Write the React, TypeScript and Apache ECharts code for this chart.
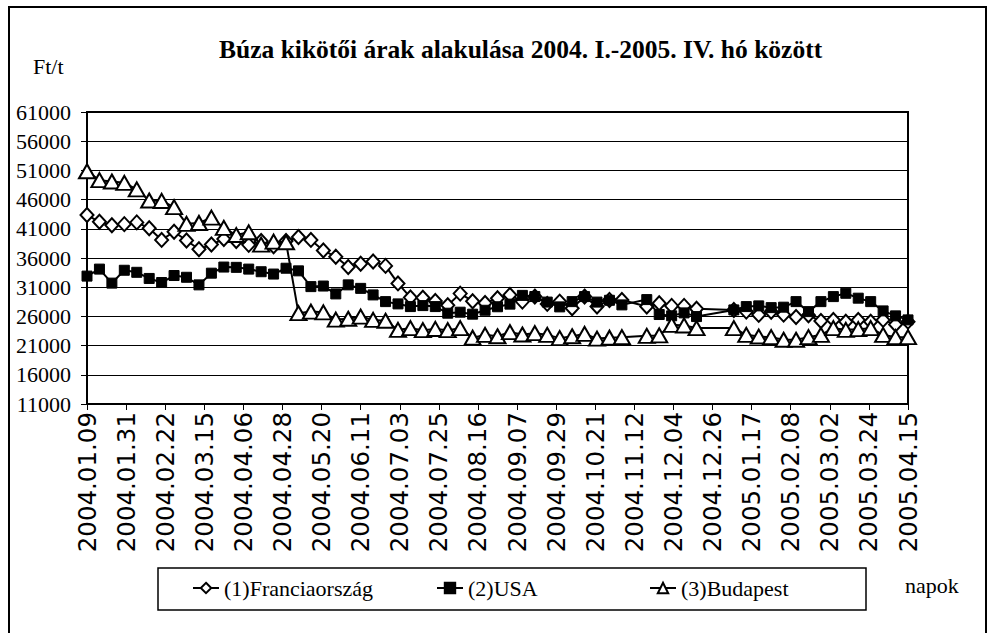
import React, { useEffect, useRef } from "react";
import * as echarts from "echarts";

const dates = [
  "2004.01.09", "2004.01.16", "2004.01.23", "2004.01.30", "2004.02.06", "2004.02.13", "2004.02.20", "2004.02.27",
  "2004.03.05", "2004.03.12", "2004.03.19", "2004.03.26", "2004.04.02", "2004.04.09", "2004.04.16", "2004.04.23",
  "2004.04.30", "2004.05.07", "2004.05.14", "2004.05.21", "2004.05.28", "2004.06.04", "2004.06.11", "2004.06.18",
  "2004.06.25", "2004.07.02", "2004.07.09", "2004.07.16", "2004.07.23", "2004.07.30", "2004.08.06", "2004.08.13",
  "2004.08.20", "2004.08.27", "2004.09.03", "2004.09.10", "2004.09.17", "2004.09.24", "2004.10.01", "2004.10.08",
  "2004.10.15", "2004.10.22", "2004.10.29", "2004.11.05",
  "2004.11.19", "2004.11.26", "2004.12.03", "2004.12.10", "2004.12.17",
  "2005.01.07", "2005.01.14", "2005.01.21", "2005.01.28", "2005.02.04", "2005.02.11", "2005.02.18", "2005.02.25",
  "2005.03.04", "2005.03.11", "2005.03.18", "2005.03.25", "2005.04.01", "2005.04.08", "2005.04.15",
];

const france = [
  43350, 42200, 41600, 41800, 42100, 41100, 39100, 40500, 39000, 37500,
  38300, 39250, 38900, 38250, 38900, 38000, 38900, 39600, 39100, 37300,
  36200, 34450, 35000, 35400, 34650, 31650, 29250, 29200, 28650, 27900,
  29900, 28600, 28300, 29100, 29680, 28530, 29390, 28140, 28530, 27400,
  29390, 27680, 28820, 28820,
  27700, 28260, 27800, 27800, 27300,
  27110, 26820, 26260, 26800, 26300, 25900, 26200, 25200, 25400, 25100, 25400, 25100, 25400, 24600, 25100,
];

const usa = [
  32900, 34100, 31700, 33900, 33550, 32500, 31800, 33000, 32700, 31400,
  33400, 34450, 34400, 34100, 33650, 33250, 34250, 33800, 31100, 31200,
  29850, 31400, 30800, 29680, 28530, 28140, 27680, 27850, 27680, 26550,
  26720, 26380, 27050, 27650, 28100, 29600, 29400, 28450, 27630, 28530,
  29390, 28450, 28760, 27970,
  28880, 26320, 26100, 26600, 25970,
  27110, 27680, 27800, 27500, 27580, 28530, 26820, 28530, 29390, 29960, 29120, 28530, 26940, 26090, 25400,
];

const budapest = [
  50850, 49330, 49100, 48870, 47740, 45850, 45770, 44720, 41850, 42000,
  42920, 41150, 39930, 40400, 38300, 38800, 38700, 26550, 26820, 26700,
  25450, 25600, 25970, 25400, 25250, 23700, 23990, 23650, 23850, 23650,
  23990, 22350, 22840, 22600, 23300, 22900, 23130, 22840, 22280, 22600,
  23000, 22200, 22350, 22450,
  22670, 22750, 24550, 24450, 24000,
  24000, 22840, 22550, 22450, 22000, 22000, 22450, 22840, 23990, 23700, 23820, 23990, 22840, 22450, 22450,
];

const seriesNames = ["(1)Franciaország", "(2)USA", "(3)Budapest"];
const titleText = "Búza kikötői árak alakulása 2004. I.-2005. IV. hó között";
const yUnit = "Ft/t";
const xUnit = "napok";
const yMin = 11000;
const yMax = 61000;
const yStep = 5000;
const xStepDays = 22;

const DAY = 86400000;
const parseDate = (s: string) => {
  const [y, m, d] = s.split(".").map(Number);
  return Date.UTC(y, m - 1, d);
};
const start = parseDate(dates[0]);
const dayOf = (s: string) => Math.round((parseDate(s) - start) / DAY);
const pad = (n: number) => (n < 10 ? "0" + n : "" + n);
const fmtDay = (day: number) => {
  const dt = new Date(start + day * DAY);
  return `${dt.getUTCFullYear()}.${pad(dt.getUTCMonth() + 1)}.${pad(dt.getUTCDate())}`;
};
const toPairs = (vals: number[]) => vals.map((v, i) => [dayOf(dates[i]), v]);

const SERIF = "'Liberation Serif', 'Times New Roman', serif";

export default function App() {
  const ref = useRef<HTMLDivElement>(null);
  useEffect(() => {
    if (!ref.current) return;
    const chart = echarts.init(ref.current, undefined, { renderer: "svg" });
    const legendCommon = {
      orient: "horizontal",
      padding: 0,
      itemWidth: 26,
      itemHeight: 13,
      selectedMode: false,
      textStyle: { fontFamily: SERIF, fontSize: 22, color: "#000" },
    };
    chart.setOption({
      animation: false,
      backgroundColor: "#fff",
      title: {
        text: titleText,
        left: 214,
        top: 31,
        textStyle: { fontFamily: SERIF, fontWeight: "bold", fontSize: 25.5, color: "#000" },
      },
      legend: [
        { ...legendCommon, data: [seriesNames[0]], left: 192, top: 577 },
        { ...legendCommon, data: [seriesNames[1]], left: 436, top: 577 },
        { ...legendCommon, data: [seriesNames[2]], left: 649, top: 577 },
      ],
      grid: {
        left: 87,
        top: 112,
        width: 821,
        height: 292,
        show: true,
        borderColor: "#000",
        borderWidth: 2,
        backgroundColor: "transparent",
      },
      xAxis: {
        type: "value",
        min: 0,
        max: dayOf(dates[dates.length - 1]),
        interval: xStepDays,
        axisLine: { show: true, lineStyle: { color: "#000", width: 2 } },
        axisTick: { show: true, inside: false, length: 6, lineStyle: { color: "#000", width: 1 } },
        splitLine: { show: false },
        axisLabel: {
          rotate: 90,
          margin: 8,
          fontFamily: "'DejaVu Sans', sans-serif",
          fontSize: 24.5,
          color: "#000",
          formatter: (v: number) => fmtDay(v),
        },
      },
      yAxis: {
        type: "value",
        min: yMin,
        max: yMax,
        interval: yStep,
        axisLine: { show: true, lineStyle: { color: "#000", width: 2 } },
        axisTick: { show: true, inside: false, length: 6, lineStyle: { color: "#000", width: 1 } },
        splitLine: { show: true, lineStyle: { color: "#000", width: 1 } },
        axisLabel: {
          margin: 16,
          fontFamily: SERIF,
          fontSize: 22,
          color: "#000",
          formatter: (v: number) => String(v),
        },
      },
      graphic: [
        {
          type: "rect",
          shape: { x: 9, y: 7, width: 977, height: 700 },
          style: { fill: "none", stroke: "#000", lineWidth: 2 },
          silent: true,
        },
        {
          type: "rect",
          shape: { x: 158, y: 568, width: 708, height: 42 },
          style: { fill: "none", stroke: "#000", lineWidth: 1.5 },
          silent: true,
        },
        {
          type: "text",
          x: 33,
          y: 55,
          style: { text: yUnit, fontFamily: SERIF, fontSize: 22, fill: "#000" },
        },
        {
          type: "text",
          x: 905,
          y: 574,
          style: { text: xUnit, fontFamily: SERIF, fontSize: 22, fill: "#000" },
        },
      ],
      series: [
        {
          name: seriesNames[0],
          type: "line",
          data: toPairs(france),
          symbol: "diamond",
          symbolSize: [13, 14],
          showAllSymbol: true,
          lineStyle: { color: "#000", width: 2 },
          itemStyle: { color: "#fff", borderColor: "#000", borderWidth: 2 },
          z: 2,
        },
        {
          name: seriesNames[1],
          type: "line",
          data: toPairs(usa),
          symbol: "rect",
          symbolSize: 10,
          showAllSymbol: true,
          lineStyle: { color: "#000", width: 2 },
          itemStyle: { color: "#000", borderColor: "#000", borderWidth: 1 },
          z: 3,
        },
        {
          name: seriesNames[2],
          type: "line",
          data: toPairs(budapest),
          symbol: "triangle",
          symbolSize: [16, 14],
          showAllSymbol: true,
          lineStyle: { color: "#000", width: 2 },
          itemStyle: { color: "#fff", borderColor: "#000", borderWidth: 2 },
          z: 4,
        },
      ],
    });
    return () => chart.dispose();
  }, []);
  return (
    <div
      ref={ref}
      style={{ position: "absolute", left: 0, top: 0, width: 989, height: 633, background: "#fff" }}
    />
  );
}
